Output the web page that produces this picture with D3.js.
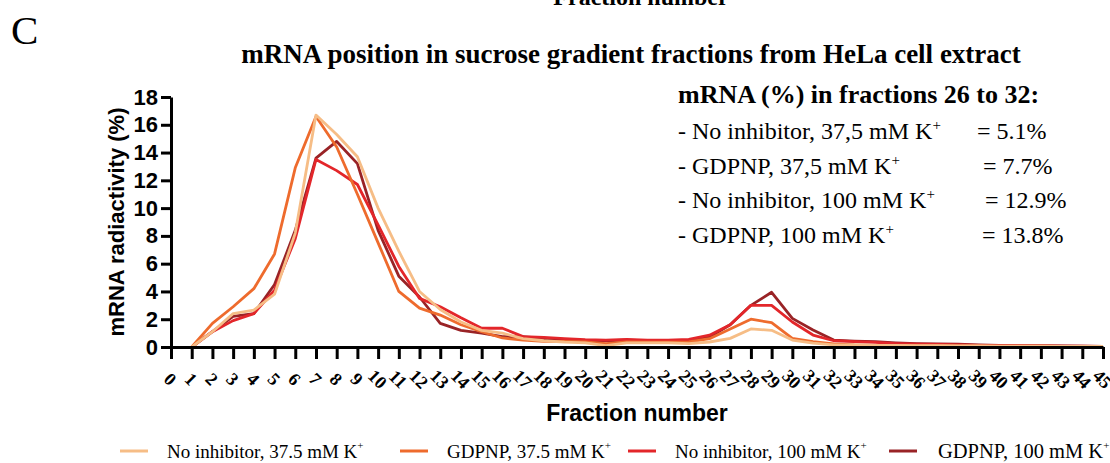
<!DOCTYPE html>
<html>
<head>
<meta charset="utf-8">
<title>mRNA sucrose gradient</title>
<style>
  body { margin: 0; background: #fff; }
  svg { display: block; }
  .serif { font-family: "Liberation Serif", "Times New Roman", serif; }
  .sans { font-family: "Liberation Sans", Arial, sans-serif; }
  .axis path, .axis line { stroke: #000; stroke-width: 3; }
  .series { fill: none; stroke-width: 2.8; stroke-linejoin: round; }
</style>
</head>
<body>
<div id="chart"></div>
<script src="https://cdn.jsdelivr.net/npm/d3@7"></script>
<script>
// fractions collected from the gradient
var fractions = [1,2,3,4,5,6,7,8,9,10,11,12,13,14,15,16,17,18,19,20,21,22,23,24,25,26,27,28,29,30,31,32,33,34,35,36,37,38,39,40,41,42,43,44,45];

// mRNA radiactivity (%) per fraction
var noInh375 = [0,1.1,2.4,2.65,3.8,8.2,16.7,15.3,13.7,10.0,
  6.9,4.0,2.7,1.8,1.2,1.0,0.6,0.45,0.35,0.3,
  0.1,0.3,0.3,0.3,0.25,0.36,0.62,1.3,1.2,0.5,
  0.28,0.15,0.15,0.12,0.12,0.1,0.1,0.08,0.08,0.07,
  0.06,0.06,0.05,0.05,0.05];
var gdpnp375 = [0,1.7,2.9,4.2,6.7,12.9,16.6,14.4,11.0,7.5,
  4.0,2.8,2.3,1.6,1.1,0.65,0.5,0.4,0.4,0.37,
  0.24,0.36,0.35,0.35,0.36,0.6,1.3,2.0,1.75,0.62,
  0.38,0.22,0.15,0.12,0.12,0.1,0.1,0.08,0.08,0.07,
  0.06,0.06,0.05,0.05,0.05];
var noInh100 = [0,1.1,1.9,2.4,4.1,7.8,13.5,12.7,11.7,8.8,
  5.8,3.5,2.9,2.1,1.35,1.35,0.75,0.7,0.6,0.53,
  0.5,0.55,0.5,0.5,0.55,0.85,1.6,3.0,3.0,1.8,
  0.86,0.45,0.38,0.33,0.25,0.2,0.18,0.15,0.12,0.1,
  0.1,0.08,0.07,0.06,0.05];
var gdpnp100 = [0,1.1,2.2,2.4,4.5,8.4,13.6,14.8,13.2,8.4,
  5.1,3.6,1.7,1.2,1.0,0.75,0.75,0.6,0.55,0.45,
  0.45,0.5,0.45,0.45,0.5,0.72,1.6,3.0,3.94,2.06,
  1.22,0.5,0.43,0.38,0.3,0.25,0.22,0.2,0.15,0.12,
  0.1,0.1,0.08,0.06,0.05];

var seriesNames = ["No inhibitor, 37.5 mM K", "GDPNP, 37.5 mM K", "No inhibitor, 100 mM K", "GDPNP, 100 mM K"];
var seriesColors = ["#f6bd86", "#ee6b2d", "#e3262a", "#992326"];
var seriesValues = [noInh375, gdpnp375, noInh100, gdpnp100];

var yTicks = [0,2,4,6,8,10,12,14,16,18];
var xTicks = [0,1,2,3,4,5,6,7,8,9,10,11,12,13,14,15,16,17,18,19,20,21,22,23,24,25,26,27,28,29,30,31,32,33,34,35,36,37,38,39,40,41,42,43,44,45];

var boxTitle = "mRNA (%) in fractions 26 to 32:";
var boxLabels = ["- No inhibitor, 37,5 mM K", "- GDPNP, 37,5 mM K", "- No inhibitor, 100 mM K", "- GDPNP, 100 mM K"];
var boxValues = ["= 5.1%", "= 7.7%", "= 12.9%", "= 13.8%"];

var W = 1110, H = 463;
var margin = {left: 171, top: 97, right: 7, bottom: 116};

var svg = d3.select("#chart").append("svg")
  .attr("width", W).attr("height", H);

var x = d3.scaleLinear().domain([0, 45]).range([margin.left, W - margin.right]);
var y = d3.scaleLinear().domain([0, 18]).range([H - margin.bottom, margin.top]);

// cut off label from the panel above
svg.append("text").attr("class", "serif")
  .attr("x", 641).attr("y", 5)
  .attr("text-anchor", "middle")
  .style("font-size", "24px").style("font-weight", "bold")
  .text("Fraction number");

svg.append("text").attr("class", "serif")
  .attr("x", 11).attr("y", 44)
  .style("font-size", "41px")
  .text("C");

svg.append("text").attr("class", "serif")
  .attr("x", 631).attr("y", 63)
  .attr("text-anchor", "middle")
  .style("font-size", "27px").style("font-weight", "bold")
  .text("mRNA position in sucrose gradient fractions from HeLa cell extract");

// lines
var line = d3.line()
  .x(function(d, i) { return x(fractions[i]); })
  .y(function(d) { return y(d); });

var order = [3, 2, 1, 0];
svg.append("g").selectAll("path")
  .data(order).enter()
  .append("path")
  .attr("class", "series")
  .attr("stroke", function(k) { return seriesColors[k]; })
  .attr("d", function(k) { return line(seriesValues[k]); });

// axes
var yAxis = svg.append("g").attr("class", "axis sans")
  .attr("transform", "translate(" + margin.left + ",0)")
  .call(d3.axisLeft(y).tickValues(yTicks).tickSize(10).tickSizeOuter(0).tickPadding(3));
yAxis.selectAll("text")
  .style("font-size", "22px").style("font-weight", "bold").attr("fill", "#000");

var xAxis = svg.append("g").attr("class", "axis serif")
  .attr("transform", "translate(0," + y(0) + ")")
  .call(d3.axisBottom(x).tickValues(xTicks).tickSize(12).tickSizeOuter(0));
xAxis.selectAll("text")
  .attr("y", 0).attr("dy", "0.35em")
  .attr("text-anchor", "middle")
  .attr("transform", "translate(-1,32) rotate(45)")
  .style("font-size", "18px").style("font-weight", "bold").attr("fill", "#000");

svg.append("text").attr("class", "sans")
  .attr("x", 637).attr("y", 421)
  .attr("text-anchor", "middle")
  .style("font-size", "23px").style("font-weight", "bold")
  .text("Fraction number");

svg.append("text").attr("class", "sans")
  .attr("transform", "translate(124,222) rotate(-90)")
  .attr("text-anchor", "middle")
  .style("font-size", "22px").style("font-weight", "bold")
  .text("mRNA radiactivity (%)");

// percentages box
var box = svg.append("g").attr("class", "serif");
box.append("text")
  .attr("x", 678).attr("y", 103)
  .style("font-size", "26px").style("font-weight", "bold")
  .text(boxTitle);
var rows = box.selectAll("g.row").data(boxLabels).enter()
  .append("g").attr("class", "row")
  .attr("transform", function(d, i) { return "translate(0," + (139 + i * 34.5) + ")"; });
var lbl = rows.append("text").attr("x", 678).attr("y", 0).style("font-size", "24px");
lbl.append("tspan").text(function(d) { return d; });
lbl.append("tspan").attr("dy", -9).style("font-size", "15px").text("+");
rows.append("text")
  .attr("x", function(d, i) { return [977, 983, 985, 982][i]; })
  .style("font-size", "24px")
  .text(function(d, i) { return boxValues[i]; });

// legend
var legendX = [120, 400, 628, 889];
var leg = svg.append("g").attr("class", "serif").selectAll("g")
  .data(seriesNames).enter().append("g")
  .attr("transform", function(d, i) { return "translate(" + legendX[i] + ",451)"; });
leg.append("line")
  .attr("x1", 0).attr("x2", 28).attr("y1", 0).attr("y2", 0)
  .attr("stroke", function(d, i) { return seriesColors[i]; })
  .attr("stroke-width", 3);
var lt = leg.append("text")
  .attr("x", function(d, i) { return i === 3 ? 49 : 47; }).attr("y", 7)
  .style("font-size", function(d, i) { return i === 3 ? "20.5px" : "19px"; });
lt.append("tspan").text(function(d) { return d; });
lt.append("tspan").attr("dy", -9).style("font-size", "11px").text("+");
</script>
</body>
</html>
